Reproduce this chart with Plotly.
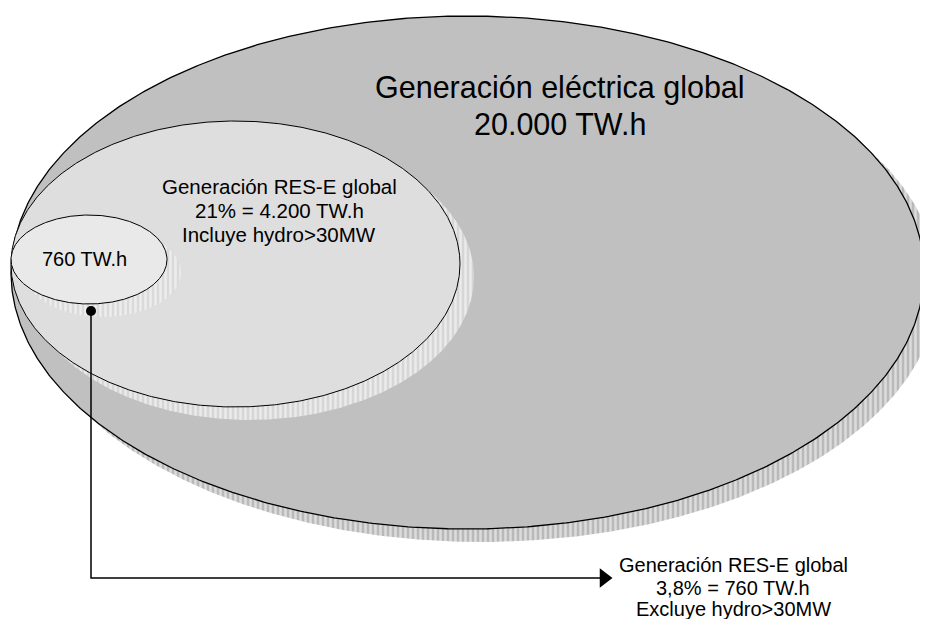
import numpy as np
import plotly.graph_objects as go

# ---- data ----
groups = ["Generación eléctrica global", "Generación RES-E global", "Generación RES-E global"]
energy_twh = [20000, 4200, 760]
share_pct = [100, 21, 3.8]
hydro_note = ["", "Incluye hydro>30MW", "Excluye hydro>30MW"]


def fmt_int(v):
    return f"{v:,.0f}".replace(",", ".")


def fmt_pct(v):
    s = f"{v:g}".replace(".", ",")
    return s + "%"


# ---- geometry (pixel layout) ----
W, H = 928, 619
PAGE_MARGIN = 8  # default body margin of the html page
ellipses = [  # cx, cy, rx, ry
    (467.5, 272.5, 456.5, 256.5),
    (235.5, 264.0, 224.5, 143.0),
    (89.0, 259.5, 78.0, 44.5),
]
fills = ["#c0c0c0", "#dedede", "#e9e9e9"]
shadow_bg = ["#b9b9b9", "#d6d6d6", "#dadada"]
shadow_off = (14, 13)

t = np.linspace(0, 2 * np.pi, 721)


def ellipse_pts(cx, cy, rx, ry):
    return cx + rx * np.cos(t), cy + ry * np.sin(t)


def shadow_pts(cx, cy, rx, ry, d):
    x, y = ellipse_pts(cx, cy, rx, ry)
    nx, ny = np.cos(t) / rx, np.sin(t) / ry
    m = (nx * d[0] + ny * d[1]) > 0
    xs = np.where(m, x + d[0], x)
    ys = np.where(m, y + d[1], y)
    k = int(np.argmin(m))
    return np.roll(xs, -k), np.roll(ys, -k)


fig = go.Figure()
for i, (cx, cy, rx, ry) in enumerate(ellipses):
    sx, sy = shadow_pts(cx, cy, rx, ry, shadow_off)
    fig.add_trace(go.Scatter(
        x=list(sx) + [sx[0]], y=list(sy) + [sy[0]], mode="lines", fill="toself",
        line=dict(width=0, color="rgba(0,0,0,0)"),
        fillcolor=shadow_bg[i],
        fillpattern=dict(shape="|", bgcolor=shadow_bg[i], fgcolor="#ffffff",
                         size=5, solidity=0.5),
        hoverinfo="skip", showlegend=False))
    ex, ey = ellipse_pts(cx, cy, rx, ry)
    fig.add_trace(go.Scatter(
        x=ex, y=ey, mode="lines", fill="toself", fillcolor=fills[i],
        line=dict(color="#000000", width=1.3 if i == 0 else 1),
        hoverinfo="skip", showlegend=False))

# connector from small ellipse to the note
dot = (91, 311)
corner_y = 578
tip_x = 612
fig.add_trace(go.Scatter(
    x=[dot[0], dot[0], tip_x - 12], y=[dot[1], corner_y, corner_y], mode="lines",
    line=dict(color="#000000", width=1.5), hoverinfo="skip", showlegend=False))
fig.add_trace(go.Scatter(
    x=[dot[0]], y=[dot[1]], mode="markers",
    marker=dict(symbol="circle", size=10, color="#000000"),
    hoverinfo="skip", showlegend=False))
fig.add_trace(go.Scatter(
    x=[tip_x - 8], y=[corner_y], mode="markers",
    marker=dict(symbol="triangle-right", size=17, color="#000000", line=dict(width=0)),
    hoverinfo="skip", showlegend=False))

FONT = "Liberation Sans, Arial, sans-serif"


def label(x, y, text, size):
    fig.add_annotation(x=x, y=y, xref="x", yref="y", text=text, showarrow=False,
                       xanchor="center", yanchor="middle",
                       font=dict(family=FONT, size=size, color="#000000"))


label(560, 87, groups[0], 30.5)
label(560, 124, f"{fmt_int(energy_twh[0])} TW.h", 30.5)

label(279, 186, groups[1], 20.5)
label(279, 210, f"{fmt_int(share_pct[1])}% = {fmt_int(energy_twh[1])} TW.h", 20.5)
label(279, 234, hydro_note[1], 20.5)

label(84, 259, f"{fmt_int(energy_twh[2])} TW.h", 20)

label(733, 565, groups[2], 20)
label(733, 588, f"{fmt_pct(share_pct[2])} = {fmt_int(energy_twh[2])} TW.h", 20)
label(733, 609, hydro_note[2], 20)

fig.update_layout(
    width=W - PAGE_MARGIN, height=H - PAGE_MARGIN, margin=dict(l=0, r=0, t=0, b=0),
    paper_bgcolor="#ffffff", plot_bgcolor="#ffffff",
    xaxis=dict(range=[PAGE_MARGIN, W], visible=False, fixedrange=True),
    yaxis=dict(range=[H, PAGE_MARGIN], visible=False, fixedrange=True),
    showlegend=False,
)
fig.write_html("out.html")
